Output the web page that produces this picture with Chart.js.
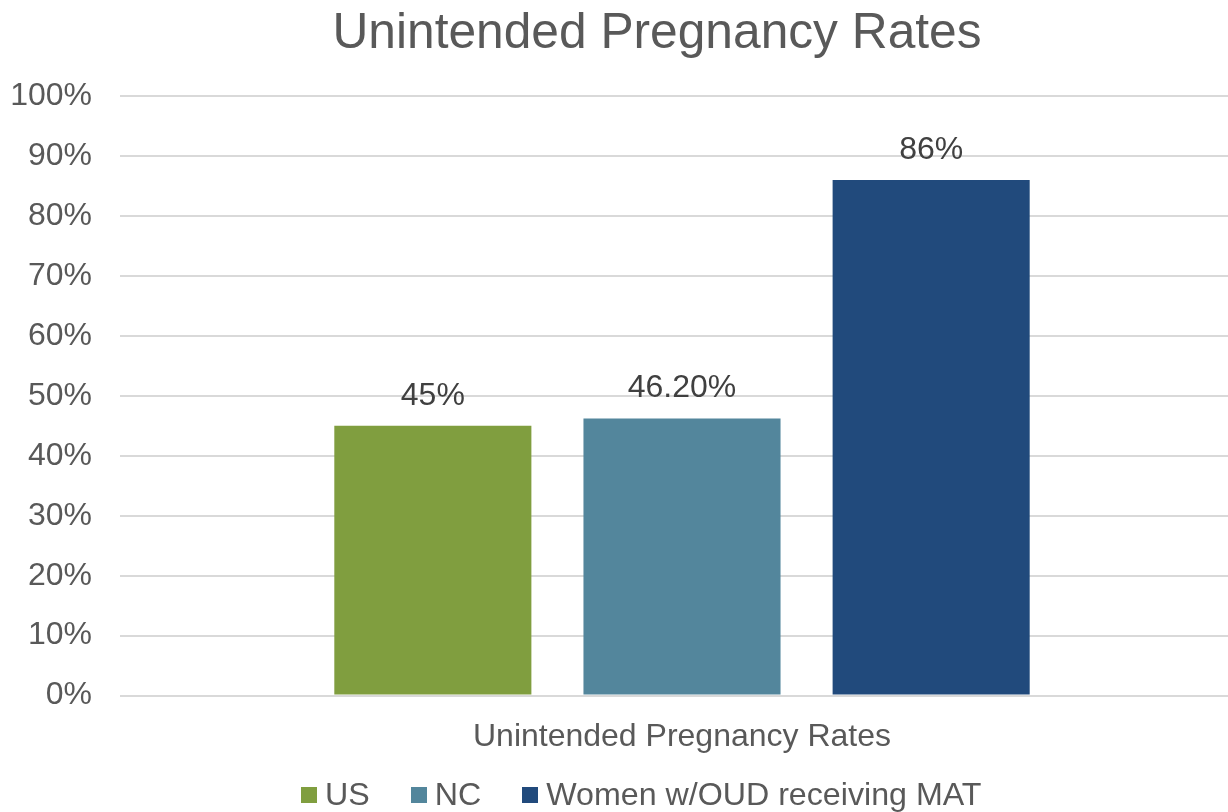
<!DOCTYPE html>
<html>
<head>
<meta charset="utf-8">
<title>Unintended Pregnancy Rates</title>
<script src="https://cdn.jsdelivr.net/npm/chart.js@4"></script>
<style>
    html, body { margin: 0; padding: 0; background: #fff; overflow: hidden; }
    body { width: 1228px; height: 812px; position: relative; font-family: "Liberation Sans", Arial, sans-serif; }
    #chartWrap { position: absolute; left: 0; top: 0; width: 1244px; height: 812px; }
    #chartTitle {
        position: absolute; left: 657px; top: 7px; transform: translateX(-50%);
        font-size: 49.7px; line-height: 49px; color: #595959; white-space: nowrap;
    }
    #chartLegend {
        position: absolute; left: 301px; top: 779px; display: flex; align-items: center;
        font-size: 32.2px; line-height: 31px; color: #595959; white-space: nowrap;
    }
    #chartLegend .item { display: flex; align-items: center; margin-right: 41px; }
    #chartLegend .box { width: 16px; height: 16px; margin-right: 8px; }
</style>
</head>
<body>
<div id="chartWrap"><canvas id="pregChart" width="1244" height="812"></canvas></div>
<div id="chartTitle">Unintended Pregnancy Rates</div>
<div id="chartLegend"></div>

<script>
// Unintended pregnancy rates - one category, three series
const categories = ['Unintended Pregnancy Rates'];
const seriesNames = ['US', 'NC', 'Women w/OUD receiving MAT'];
const seriesValues = [45, 46.2, 86];
const valueLabels = ['45%', '46.20%', '86%'];
const seriesColors = ['#809e3f', '#53869c', '#214a7c'];
const yTicks = [0, 10, 20, 30, 40, 50, 60, 70, 80, 90, 100];

const TEXT_COLOR = '#595959';
const LABEL_COLOR = '#404040';
const FONT = '"Liberation Sans", Arial, sans-serif';

// draws the value above each bar
const barValueLabels = {
    id: 'barValueLabels',
    afterDatasetsDraw(chart) {
        const ctx = chart.ctx;
        ctx.save();
        ctx.font = `32px ${FONT}`;
        ctx.fillStyle = LABEL_COLOR;
        ctx.textAlign = 'center';
        ctx.textBaseline = 'middle';
        chart.data.datasets.forEach((ds, i) => {
            const meta = chart.getDatasetMeta(i);
            meta.data.forEach(bar => {
                ctx.fillText(valueLabels[i], bar.x, bar.y - 30);
            });
        });
        ctx.restore();
    }
};

const datasets = seriesNames.map((name, i) => ({
    label: name,
    data: [seriesValues[i]],
    backgroundColor: seriesColors[i],
    borderWidth: 0,
    categoryPercentage: 0.665,
    barPercentage: 0.791
}));

const ctx = document.getElementById('pregChart').getContext('2d');
new Chart(ctx, {
    type: 'bar',
    data: { labels: categories, datasets },
    options: {
        responsive: false,
        animation: false,
        layout: { padding: { top: 96, left: 10, right: 0, bottom: 34 } },
        plugins: {
            legend: { display: false },
            title: { display: false },
            tooltip: { enabled: false }
        },
        scales: {
            x: {
                grid: { display: false, drawTicks: false },
                border: { display: false },
                ticks: { color: TEXT_COLOR, font: { family: FONT, size: 32 }, padding: 22 }
            },
            y: {
                min: 0,
                max: 100,
                afterFit(scale) { scale.width = 110; },
                afterBuildTicks(scale) { scale.ticks = yTicks.map(v => ({ value: v })); },
                grid: { color: '#d9d9d9', lineWidth: 2, drawTicks: false },
                border: { display: false },
                ticks: {
                    color: TEXT_COLOR,
                    font: { family: FONT, size: 32 },
                    padding: 28,
                    callback: v => v + '%'
                }
            }
        }
    },
    plugins: [barValueLabels]
});

// html legend built from the series
const legendEl = document.getElementById('chartLegend');
seriesNames.forEach((name, i) => {
    const item = document.createElement('div');
    item.className = 'item';
    const box = document.createElement('span');
    box.className = 'box';
    box.style.background = seriesColors[i];
    const txt = document.createElement('span');
    txt.textContent = name;
    item.appendChild(box);
    item.appendChild(txt);
    legendEl.appendChild(item);
});
</script>
</body>
</html>
